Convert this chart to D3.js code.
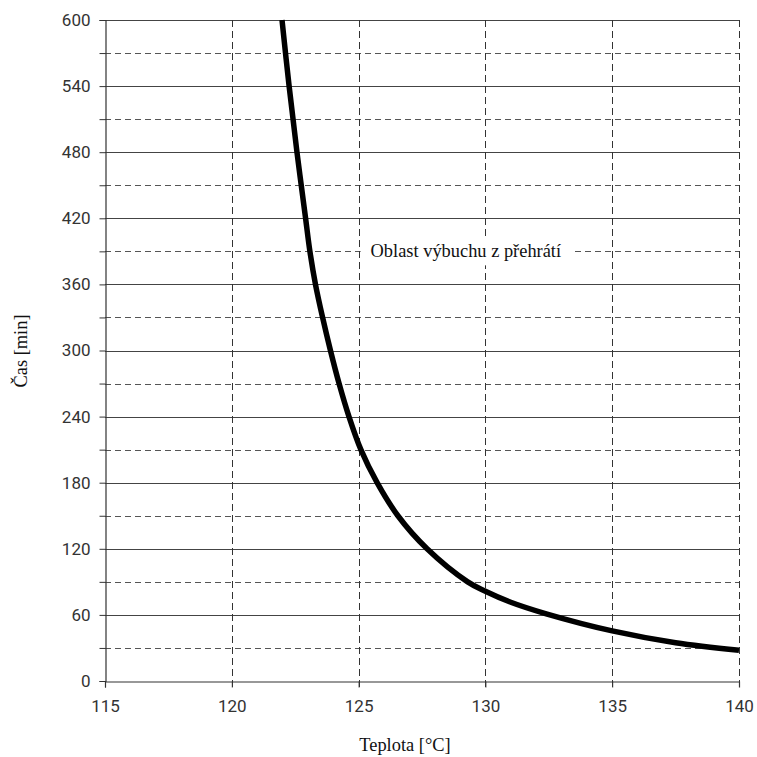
<!DOCTYPE html>
<html><head><meta charset="utf-8">
<script src="https://cdn.jsdelivr.net/npm/d3@7"></script>
<style>body{margin:0;background:#fff}svg{display:block}</style>
</head><body>
<script>
const temps = [121.98,122.26,122.57,122.91,123.08,123.30,123.58,123.89,124.23,124.62,125.09,125.73,126.55,127.70,129.3,130,131,132.4,135,137.5,140];
const times = [600,540,480,420,390,360,330,300,270,240,210,180,150,120,90,81.5,71.5,61,45.5,34.8,28];
const xTicks = [115,120,125,130,135,140];
const yMajor = [0,60,120,180,240,300,360,420,480,540,600];
const yMinor = [30,90,150,210,270,330,390,450,510,570];
const xTitle = "Teplota [°C]";
const yTitle = "Čas [min]";
const note = "Oblast výbuchu z přehrátí";

const W=757,H=757, L=105,R=739,T=20,B=681;
const svg=d3.select("body").append("svg").attr("width",W).attr("height",H);
const x=d3.scaleLinear().domain([115,140]).range([L,R]);
const y=d3.scaleLinear().domain([0,600]).range([B,T]);
const serif="'Liberation Serif','Times New Roman',serif";

// minor dashed horizontals
svg.append("g").selectAll("line").data(yMinor).join("line")
  .attr("x1",L).attr("x2",R).attr("y1",d=>Math.round(y(d))+0.5).attr("y2",d=>Math.round(y(d))+0.5)
  .attr("stroke","#555").attr("stroke-width",1).attr("stroke-dasharray","6,4");
// major solid horizontals
svg.append("g").selectAll("line").data(yMajor.filter(d=>d>0)).join("line")
  .attr("x1",L).attr("x2",R).attr("y1",d=>Math.round(y(d))+0.5).attr("y2",d=>Math.round(y(d))+0.5)
  .attr("stroke","#444").attr("stroke-width",1);
// vertical dashed
svg.append("g").selectAll("line").data(xTicks.filter(d=>d>115)).join("line")
  .attr("x1",d=>Math.round(x(d))+0.5).attr("x2",d=>Math.round(x(d))+0.5).attr("y1",T).attr("y2",B+6)
  .attr("stroke","#333").attr("stroke-width",1).attr("stroke-dasharray","7,4");

// annotation box
const ann = svg.append("g");
ann.append("rect").attr("x",x(125)+2).attr("y",y(390)-12).attr("width",214).attr("height",26).attr("fill","#fff");
ann.append("text").attr("x",x(125)+12).attr("y",y(390)+6)
  .attr("font-family",serif).attr("font-size",18.4).attr("fill","#111").text(note);

// axes
const yAx = d3.axisLeft(y).tickValues([...yMajor,...yMinor]).tickSize(6).tickPadding(9)
  .tickFormat(d=>yMajor.includes(d)?d:"");
const gy=svg.append("g").attr("transform",`translate(${L+0.5},0)`).call(yAx);
const xAx = d3.axisBottom(x).tickValues(xTicks).tickSize(6).tickPadding(12).tickFormat(d=>d);
const gx=svg.append("g").attr("transform",`translate(0,${B+0.5})`).call(xAx);
[gx,gy].forEach(g=>{
  g.select(".domain").attr("stroke","#333").attr("stroke-width",1.2);
  g.selectAll(".tick line").attr("stroke","#333");
  g.selectAll("text").attr("font-family","Roboto,'Liberation Sans',Arial,sans-serif").attr("font-size",17).attr("fill","#333");
});
gx.selectAll(".tick").filter(d=>d===140).select("line").remove();

// curve
const pts=temps.map((t,i)=>[t,times[i]]);
svg.append("path").datum(pts)
  .attr("d",d3.line().x(d=>x(d[0])).y(d=>y(d[1])).curve(d3.curveCatmullRom.alpha(0.5)))
  .attr("fill","none").attr("stroke","#000").attr("stroke-width",5.5);

// titles
svg.append("text").attr("x",405).attr("y",751).attr("text-anchor","middle")
  .attr("font-family",serif).attr("font-size",18.4).attr("fill","#111").text(xTitle);
svg.append("text").attr("transform","translate(27,351) rotate(-90)").attr("text-anchor","middle")
  .attr("font-family",serif).attr("font-size",18.4).attr("fill","#111").text(yTitle);
</script>
</body></html>
